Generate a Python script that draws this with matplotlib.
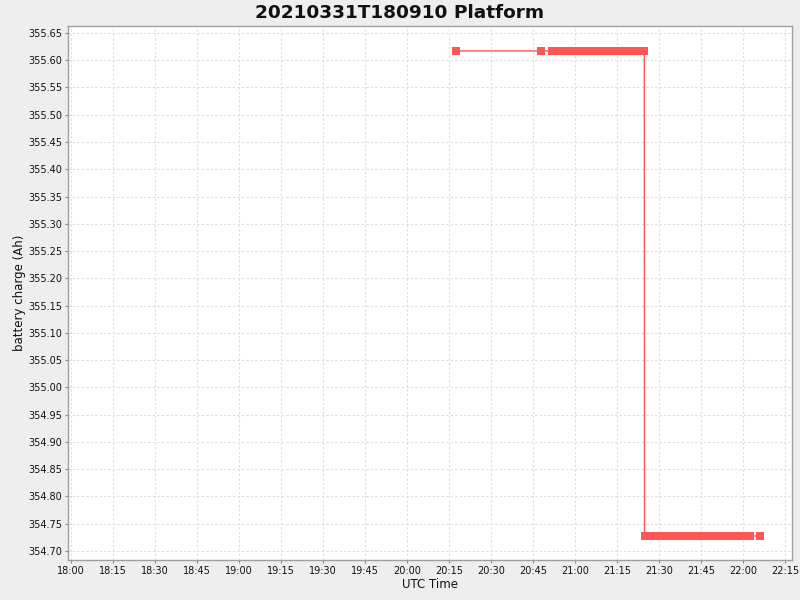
import matplotlib
matplotlib.use("Agg")
import matplotlib.pyplot as plt
import matplotlib.dates as mdates
from datetime import datetime

title = "20210331T180910 Platform"
x_label = "UTC Time"
y_label = "battery charge (Ah)"

times = [
    "20:17:40", "20:48:00",
    "20:51:40", "20:52:40", "20:53:40", "20:54:40", "20:55:40", "20:56:40", "20:57:40", "20:58:40", "20:59:40",
    "21:00:40", "21:01:40", "21:02:40", "21:03:40", "21:04:40", "21:05:40", "21:06:40", "21:07:40", "21:08:40", "21:09:40",
    "21:10:40", "21:11:40", "21:12:40", "21:13:40", "21:14:40", "21:15:40", "21:16:40", "21:17:40", "21:18:40", "21:19:40",
    "21:20:40", "21:21:40", "21:22:40", "21:23:40", "21:24:45",
    "21:24:50", "21:25:50", "21:26:50", "21:27:50", "21:28:50", "21:29:50",
    "21:30:50", "21:31:50", "21:32:50", "21:33:50", "21:34:50", "21:35:50", "21:36:50", "21:37:50", "21:38:50", "21:39:50",
    "21:40:50", "21:41:50", "21:42:50", "21:43:50", "21:44:50", "21:45:50", "21:46:50", "21:47:50", "21:48:50", "21:49:50",
    "21:50:50", "21:51:50", "21:52:50", "21:53:50", "21:54:50", "21:55:50", "21:56:50", "21:57:50", "21:58:50", "21:59:50",
    "22:00:50", "22:01:50", "22:02:40", "22:05:55",
]
upper_count = 36
upper_value = 355.617
lower_value = 354.7275
charge = [upper_value] * upper_count + [lower_value] * (len(times) - upper_count)

y_ticks = [354.70, 354.75, 354.80, 354.85, 354.90, 354.95, 355.00, 355.05, 355.10,
           355.15, 355.20, 355.25, 355.30, 355.35, 355.40, 355.45, 355.50, 355.55,
           355.60, 355.65]

day = "2021-03-31 "
t = [datetime.strptime(day + s, "%Y-%m-%d %H:%M:%S") for s in times]

plt.rcParams['font.family'] = ['DejaVu Sans']
fig = plt.figure(figsize=(8, 6), dpi=100, facecolor="#EEEEEE")
ax = fig.add_axes([0.085, 0.0667, 0.905, 0.89])
ax.set_facecolor("white")

ax.plot(t, charge, color="#FF5555", linewidth=1.0, marker="s", markersize=5.4,
        markeredgewidth=0, zorder=3)

ax.set_xlim(datetime(2021, 3, 31, 17, 58, 56), datetime(2021, 3, 31, 22, 17, 30))
ax.set_ylim(354.6835, 355.6628)
ax.xaxis.set_major_locator(mdates.MinuteLocator(byminute=[0, 15, 30, 45]))
ax.xaxis.set_major_formatter(mdates.DateFormatter("%H:%M"))
ax.set_yticks(y_ticks)
ax.set_yticklabels([f"{v:.2f}" for v in y_ticks])

ax.grid(True, color="#DDDDDD", linestyle=(0, (2, 2)), linewidth=0.8)
ax.set_axisbelow(True)
for sp in ax.spines.values():
    sp.set_color("#A0A0A0")
    sp.set_linewidth(1.0)
ax.tick_params(axis="both", labelsize=7, colors="#888888", length=2, width=0.8,
               labelcolor="#111111", pad=2)

ax.set_xlabel(x_label, fontsize=8.5, color="#111111", labelpad=2)
ax.set_ylabel(y_label, fontsize=8.5, color="#111111", labelpad=2)
fig.suptitle(title, fontsize=13.3, fontweight="bold", y=0.993, color="#111111")

fig.savefig("out.png", dpi=100, facecolor=fig.get_facecolor())
